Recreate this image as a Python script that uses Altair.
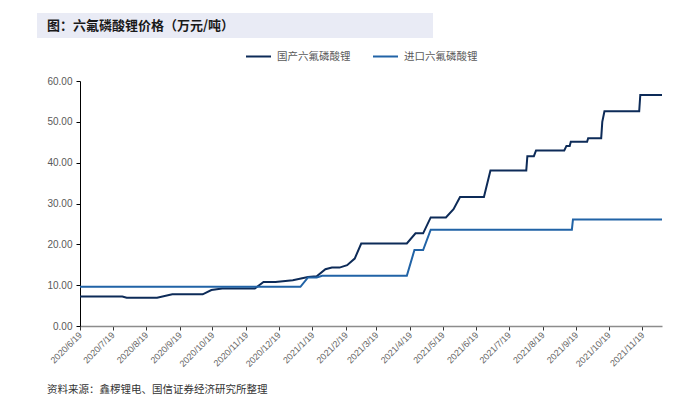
import altair as alt
import pandas as pd

series_names = ["国产六氟磷酸锂", "进口六氟磷酸锂"]
series_colors = ["#0d2b58", "#2163a6"]

domestic_dates = ["2020/6/19", "2020/7/28", "2020/8/1", "2020/8/29", "2020/9/12", "2020/10/10",
                  "2020/10/18", "2020/10/28", "2020/11/27", "2020/12/5", "2020/12/16", "2021/1/1",
                  "2021/1/15", "2021/1/23", "2021/1/31", "2021/2/6", "2021/2/13", "2021/2/20",
                  "2021/2/27", "2021/3/5", "2021/4/16", "2021/4/24", "2021/5/1", "2021/5/8",
                  "2021/5/22", "2021/5/29", "2021/6/4", "2021/6/26", "2021/7/2", "2021/8/4",
                  "2021/8/5", "2021/8/11", "2021/8/13", "2021/9/8", "2021/9/10", "2021/9/13",
                  "2021/9/14", "2021/9/29", "2021/9/30", "2021/10/12", "2021/10/13", "2021/10/15",
                  "2021/11/16", "2021/11/17", "2021/12/7"]
domestic_vals = [7.2, 7.2, 6.9, 6.9, 7.75, 7.75, 8.8, 9.2, 9.2, 10.8,
                 10.8, 11.2, 12.0, 12.2, 13.9, 14.3, 14.3, 14.9, 16.5, 20.2,
                 20.2, 22.7, 22.7, 26.6, 26.6, 28.6, 31.6, 31.6, 38.1, 38.1,
                 41.6, 41.6, 43.0, 43.0, 44.1, 44.1, 45.1, 45.1, 46.0, 46.0,
                 50.0, 52.6, 52.6, 56.6, 56.6]

import_dates = ["2020/6/19", "2021/1/8", "2021/1/15", "2021/1/23", "2021/1/28", "2021/4/16",
                "2021/4/23", "2021/5/1", "2021/5/8", "2021/9/15", "2021/9/16", "2021/12/7"]
import_vals = [9.6, 9.6, 11.9, 11.9, 12.3, 12.3, 18.6, 18.6, 23.6, 23.6, 26.1, 26.1]

tick_months = [(2020, m) for m in range(6, 13)] + [(2021, m) for m in range(1, 12)]
y_ticks = [0, 10, 20, 30, 40, 50, 60]

title_text = "图：六氟磷酸锂价格（万元/吨）"
source_text = "资料来源：鑫椤锂电、国信证券经济研究所整理"

df = pd.concat([
    pd.DataFrame({"date": domestic_dates, "price": domestic_vals, "series": series_names[0]}),
    pd.DataFrame({"date": import_dates, "price": import_vals, "series": series_names[1]}),
])

x_values = [alt.DateTime(year=y, month=m, date=19) for y, m in tick_months]

lines = alt.Chart(df).mark_line(strokeWidth=2, interpolate="linear").encode(
    x=alt.X("date:T",
            scale=alt.Scale(domain=[alt.DateTime(year=2020, month=6, date=19),
                                    alt.DateTime(year=2021, month=12, date=7)]),
            axis=alt.Axis(values=x_values, format="%Y/%-m/%-d", labelAngle=315,
                          labelAlign="right", labelBaseline="middle", labelPadding=3,
                          labelFontSize=9, labelColor="#666666", labelFont="Liberation Sans",
                          domainColor="#8c8c8c", domainWidth=1.5, tickColor="#333333",
                          tickSize=4, grid=False, title=None, labelOverlap=False)),
    y=alt.Y("price:Q", scale=alt.Scale(domain=[0, 60], nice=False),
            axis=alt.Axis(values=y_ticks, format=".2f", labelFontSize=10,
                          labelColor="#595959", labelFont="Liberation Sans",
                          domainColor="#000000", tickColor="#000000", tickSize=4,
                          labelPadding=4, grid=False, title=None)),
    color=alt.Color("series:N",
                    scale=alt.Scale(domain=series_names, range=series_colors),
                    legend=alt.Legend(orient="none", legendX=165, legendY=-38,
                                      direction="horizontal", title=None,
                                      symbolType="stroke", symbolSize=625,
                                      symbolStrokeWidth=2, labelFont="Noto Sans CJK SC",
                                      labelFontSize=10.5, labelColor="#595959",
                                      columnPadding=18, labelOffset=5)),
)

one = pd.DataFrame({"a": [0]})
title_box = alt.Chart(one).mark_rect(color="#e9ebf5").encode(
    x=alt.value(-43), x2=alt.value(353), y=alt.value(-68), y2=alt.value(-43))
title = alt.Chart(one).mark_text(align="left", baseline="middle", font="Noto Sans CJK SC",
                                 fontSize=13, fontWeight="bold", color="#1a1a1a").encode(
    x=alt.value(-33), y=alt.value(-55), text=alt.value(title_text))
source = alt.Chart(one).mark_text(align="left", baseline="middle", font="Noto Sans CJK SC",
                                  fontSize=10.5, color="#333333").encode(
    x=alt.value(-33), y=alt.value(309), text=alt.value(source_text))

chart = alt.layer(title_box, title, source, lines).properties(
    width=582, height=245,
    autosize=alt.AutoSizeParams(type="none"),
    padding={"left": 72, "top": 73, "right": 20, "bottom": 72},
).configure_view(stroke=None)

chart.save("out.html", embed_options={"renderer": "svg", "actions": False})
